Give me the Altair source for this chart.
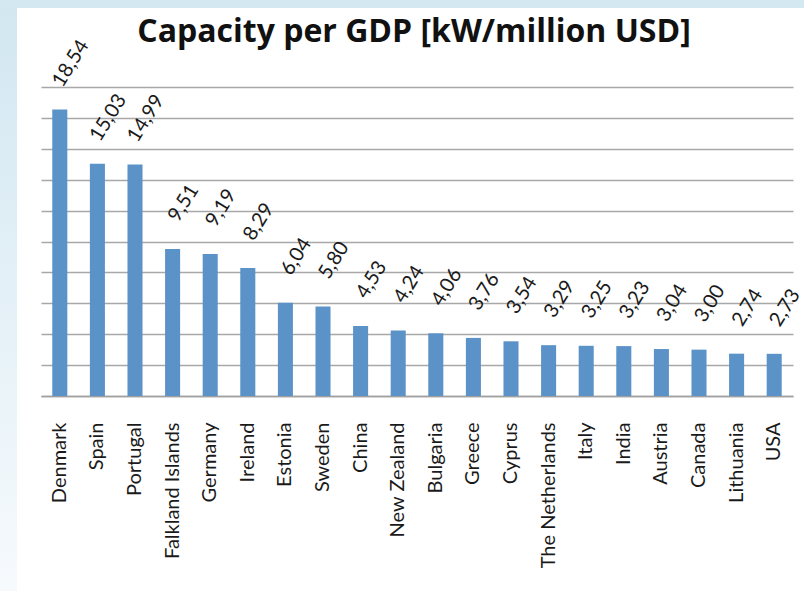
import altair as alt
import pandas as pd

countries = ["Denmark", "Spain", "Portugal", "Falkland Islands", "Germany", "Ireland",
             "Estonia", "Sweden", "China", "New Zealand", "Bulgaria", "Greece", "Cyprus",
             "The Netherlands", "Italy", "India", "Austria", "Canada", "Lithuania", "USA"]
values = [18.54, 15.03, 14.99, 9.51, 9.19, 8.29, 6.04, 5.80, 4.53, 4.24, 4.06, 3.76,
          3.54, 3.29, 3.25, 3.23, 3.04, 3.00, 2.74, 2.73]
y_ticks = [0, 2, 4, 6, 8, 10, 12, 14, 16, 18, 20]

df = pd.DataFrame({"country": countries, "value": values})
df["label"] = [f"{v:.2f}".replace(".", ",") for v in values]

W, H = 752, 309
PL, PT = 41, 87

deco = pd.DataFrame({"a": [0]})
left_strip = alt.Chart(deco).mark_rect(
    color=alt.LinearGradient(
        gradient="linear",
        stops=[alt.GradientStop(color="#d2e7f1", offset=0),
               alt.GradientStop(color="#f6fafd", offset=1)],
        x1=0, x2=0, y1=0, y2=1),
).encode(x=alt.value(-PL), x2=alt.value(-PL + 17), y=alt.value(-PT), y2=alt.value(591 - PT))
top_strip = alt.Chart(deco).mark_rect(color="#d3e8f1").encode(
    x=alt.value(-PL), x2=alt.value(804 - PL), y=alt.value(-PT), y2=alt.value(-PT + 8))

x_enc = alt.X("country:N", sort=None,
              scale=alt.Scale(paddingInner=0.6, paddingOuter=0.3),
              axis=alt.Axis(title=None, labelAngle=-90, labelPadding=26, ticks=False, tickSize=0,
                            labelFont="Lato", labelFontSize=20, labelColor="#1a1a1a",
                            domainColor="#a0a0a0", domainWidth=1.5, grid=False))
y_enc = alt.Y("value:Q", scale=alt.Scale(domain=[0, 20], nice=False),
              axis=alt.Axis(title=None, values=y_ticks, labels=False, ticks=False,
                            domain=False, grid=True, gridColor="#a8a8a8", gridWidth=1.3))

bars = alt.Chart(df).mark_bar(color="#5b92c8").encode(x=x_enc, y=y_enc)
texts = alt.Chart(df).mark_text(
    angle=302, align="center", baseline="middle", xOffset=11, yOffset=-46,
    font="Lato", fontSize=20, color="#1a1a1a"
).encode(x=x_enc, y=y_enc, text="label:N")

chart = alt.layer(left_strip, top_strip, bars, texts).properties(
    width=W, height=H,
    autosize=alt.AutoSizeParams(type="none"),
    padding={"left": PL, "top": PT, "right": 804 - PL - W, "bottom": 591 - PT - H},
    background="white",
    title=alt.TitleParams("Capacity per GDP [kW/million USD]", font="Open Sans", fontSize=32,
                          fontWeight="bold", color="#111111", anchor="middle", offset=-49,
                          dx=-3),
).configure_view(stroke=None)

chart.save("out.html", embed_options={"renderer": "svg", "actions": False})
